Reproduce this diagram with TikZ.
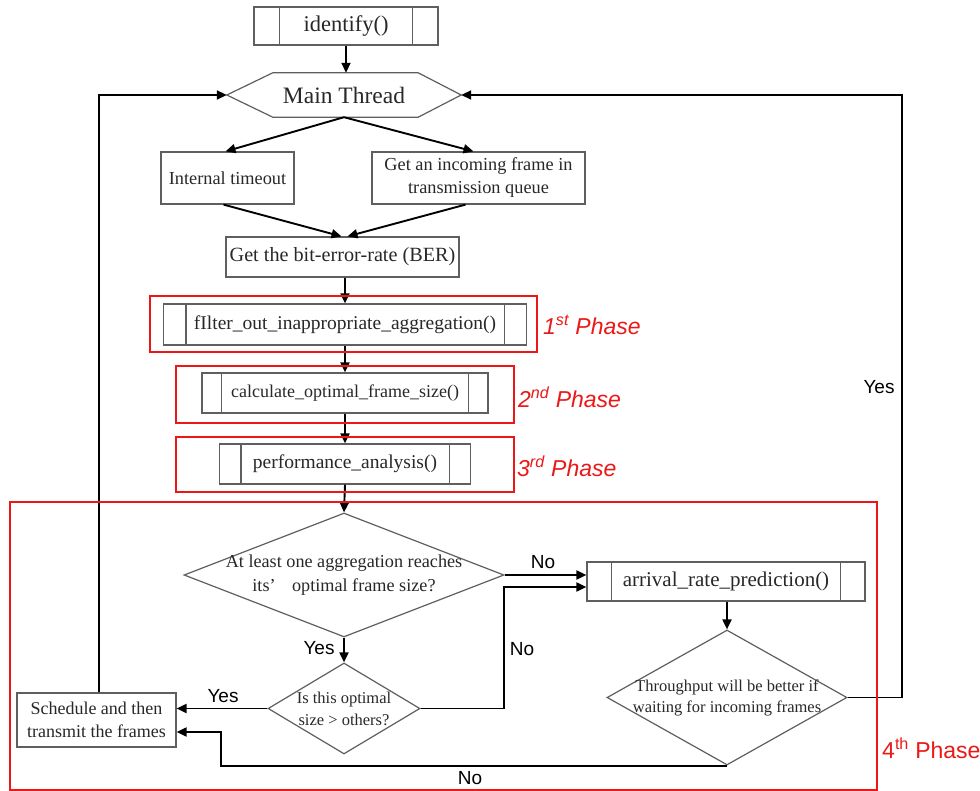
\documentclass[tikz,border=0pt]{standalone}
\usepackage{fontspec}
\setmainfont{Liberation Serif}
\newfontfamily\lsans{Liberation Sans}
\usetikzlibrary{arrows.meta,shapes.geometric}

\definecolor{boxgray}{RGB}{95,95,95}
\definecolor{txtgray}{RGB}{40,40,40}
\definecolor{phasered}{RGB}{236,24,24}

% vertical bars of a predefined-process box
\newcommand\procbars[2]{%
  \draw[boxline] ([xshift=#2]#1.north west) -- ([xshift=#2]#1.south west)
                 ([xshift=-#2]#1.north east) -- ([xshift=-#2]#1.south east);}

\begin{document}
\begin{tikzpicture}[x=1pt,y=-1pt,
  boxline/.style={draw=boxgray, line width=1.2pt},
  box/.style={rectangle, boxline, inner sep=0pt, text=txtgray, align=center,
              font=\fontsize{19.5}{23}\selectfont},
  dia/.style={diamond, boxline, inner sep=0pt},
  diatext/.style={text=txtgray, align=center, inner sep=0pt},
  arrow/.style={draw=black, line width=1.9pt,
                -{Triangle[length=10pt,width=9pt]}},
  lbl/.style={font=\lsans\fontsize{19}{19}\selectfont, text=black, inner sep=0pt},
  phase/.style={font=\lsans\fontsize{23}{23}\selectfont, text=phasered,
                anchor=west, inner sep=0pt},
  redframe/.style={draw=phasered, line width=2.8pt}
]
\fill[white] (0,0) rectangle (980,791);
\useasboundingbox (0,0) rectangle (980,791);

% ---- top part -------------------------------------------------------
\node[box, minimum width=184pt, minimum height=38pt,
      font=\fontsize{22.5}{26}\selectfont] (ident) at (346,26) {identify()};
\procbars{ident}{26pt}

\node[rectangle, inner sep=0pt, minimum width=234pt, minimum height=44pt,
      text=txtgray, font=\fontsize{23.5}{27}\selectfont] (main) at (344,95) {Main Thread};
\draw[boxline] (main.west) -- ([xshift=46pt]main.north west)
  -- ([xshift=-43pt]main.north east) -- (main.east)
  -- ([xshift=-43pt]main.south east) -- ([xshift=46pt]main.south west) -- cycle;

\node[box, minimum width=133pt, minimum height=52pt,
      font=\fontsize{18.3}{23}\selectfont] (itmo) at (227.5,178) {Internal timeout};
\node[box, minimum width=213pt, minimum height=52pt,
      font=\fontsize{18.3}{23}\selectfont] (inq) at (478.5,178)
      {Get an incoming frame in\\transmission queue};

\node[box, minimum width=233pt, minimum height=40pt,
      font=\fontsize{20.2}{24}\selectfont] (ber) at (342.5,257)
      {Get the bit-error-rate (BER)};

% ---- phases 1-3 -----------------------------------------------------
\node[box, minimum width=363pt, minimum height=41pt] (filt) at (345,324.5)
      {fIlter\_out\_inappropriate\_aggregation()};
\procbars{filt}{23pt}
\node[box, minimum width=286pt, minimum height=40pt,
      font=\fontsize{18}{23}\selectfont] (calc) at (345,393)
      {calculate\_optimal\_frame\_size()};
\procbars{calc}{20pt}
\node[box, minimum width=251pt, minimum height=40pt] (perf) at (345,464)
      {performance\_analysis()};
\procbars{perf}{22pt}

% ---- phase 4 --------------------------------------------------------
\node[dia, minimum width=320pt, minimum height=124pt] (d1) at (344,575) {};
\node[diatext, font=\fontsize{18.2}{24}\selectfont] (d1t) at (d1)
      {At least one aggregation reaches\\its’\hspace{0.9em}optimal frame size?};

\node[dia, minimum width=152pt, minimum height=91pt] (d2) at (344,708.5) {};
\node[diatext, font=\fontsize{16.5}{22}\selectfont] (d2t) at (d2)
      {Is this optimal\\size > others?};

\node[box, minimum width=278pt, minimum height=39pt,
      font=\fontsize{21}{25}\selectfont] (arr) at (726,581.5)
      {arrival\_rate\_prediction()};
\procbars{arr}{25pt}

\node[dia, minimum width=240pt, minimum height=135pt] (d3) at (727,697.5) {};
\node[diatext, font=\fontsize{16.5}{21}\selectfont] (d3t) at (d3)
      {Throughput will be better if\\waiting for incoming frames};

\node[box, minimum width=159pt, minimum height=54pt,
      font=\fontsize{18}{23}\selectfont] (sched) at (96.5,720)
      {Schedule and then\\transmit the frames};

% bend points of the loop-back connectors
\coordinate (nocorner) at (504,587);
\coordinate (yescorner) at (902,95);
\coordinate (nobend) at (221,732);

% ---- connectors -----------------------------------------------------
\draw[arrow] (ident.south) -- (ident.south |- main.north);
\draw[arrow] (main.south) -- ([xshift=-2pt]itmo.north);
\draw[arrow] (main.south) -- ([xshift=-5pt]inq.north);
\draw[arrow] ([xshift=-4pt]itmo.south) -- ([xshift=-1pt]ber.north);
\draw[arrow] ([xshift=-13pt]inq.south) -- ([xshift=5pt]ber.north);
\draw[arrow] (ber.south -| filt.north) -- (filt.north);
\draw[arrow] (filt.south) -- (calc.north);
\draw[arrow] (calc.south) -- (perf.north);
\draw[arrow] (perf.south) -- (d1.north);
\draw[arrow] (d1.south) -- (d2.north);
\draw[arrow] (d2.west) -- (d2.west -| sched.east);
\draw[arrow] (d1.east) -- (d1.east -| arr.west);
\draw[arrow] (d2.east) -| (nocorner) -- (nocorner -| arr.west);
\draw[arrow] (arr.south -| d3.north) -- (d3.north);
\draw[arrow] (d3.east) -| (yescorner) -- (main.east);
\draw[arrow] (d3.south) -| (nobend) -- (nobend -| sched.east);
\draw[arrow] ([xshift=2.5pt]sched.north) |- (main.west);

% ---- connector labels -----------------------------------------------
\node[lbl] (lyes1) at (319,648) {Yes};
\node[lbl] (lyes2) at (223,696) {Yes};
\node[lbl] (lno1) at (543,562) {No};
\node[lbl] (lno2) at (522,649) {No};
\node[lbl] (lyes3) at (879,387) {Yes};
\node[lbl] (lno3) at (470,778) {No};

% ---- phase frames ---------------------------------------------------
\draw[redframe] (150,296) rectangle (537,352);
\draw[redframe] (176,366) rectangle (514,423);
\draw[redframe] (176,437) rectangle (514,492);
\draw[redframe] (10,502) rectangle (877,790);

\node[phase] (ph1) at (543,325) {\itshape 1\textsuperscript{st} Phase};
\node[phase] (ph2) at (518,397) {\itshape 2\textsuperscript{nd} Phase};
\node[phase] (ph3) at (517,466) {\itshape 3\textsuperscript{rd} Phase};
\node[phase] (ph4) at (882,748) {4\textsuperscript{th} Phase};
\end{tikzpicture}
\end{document}
